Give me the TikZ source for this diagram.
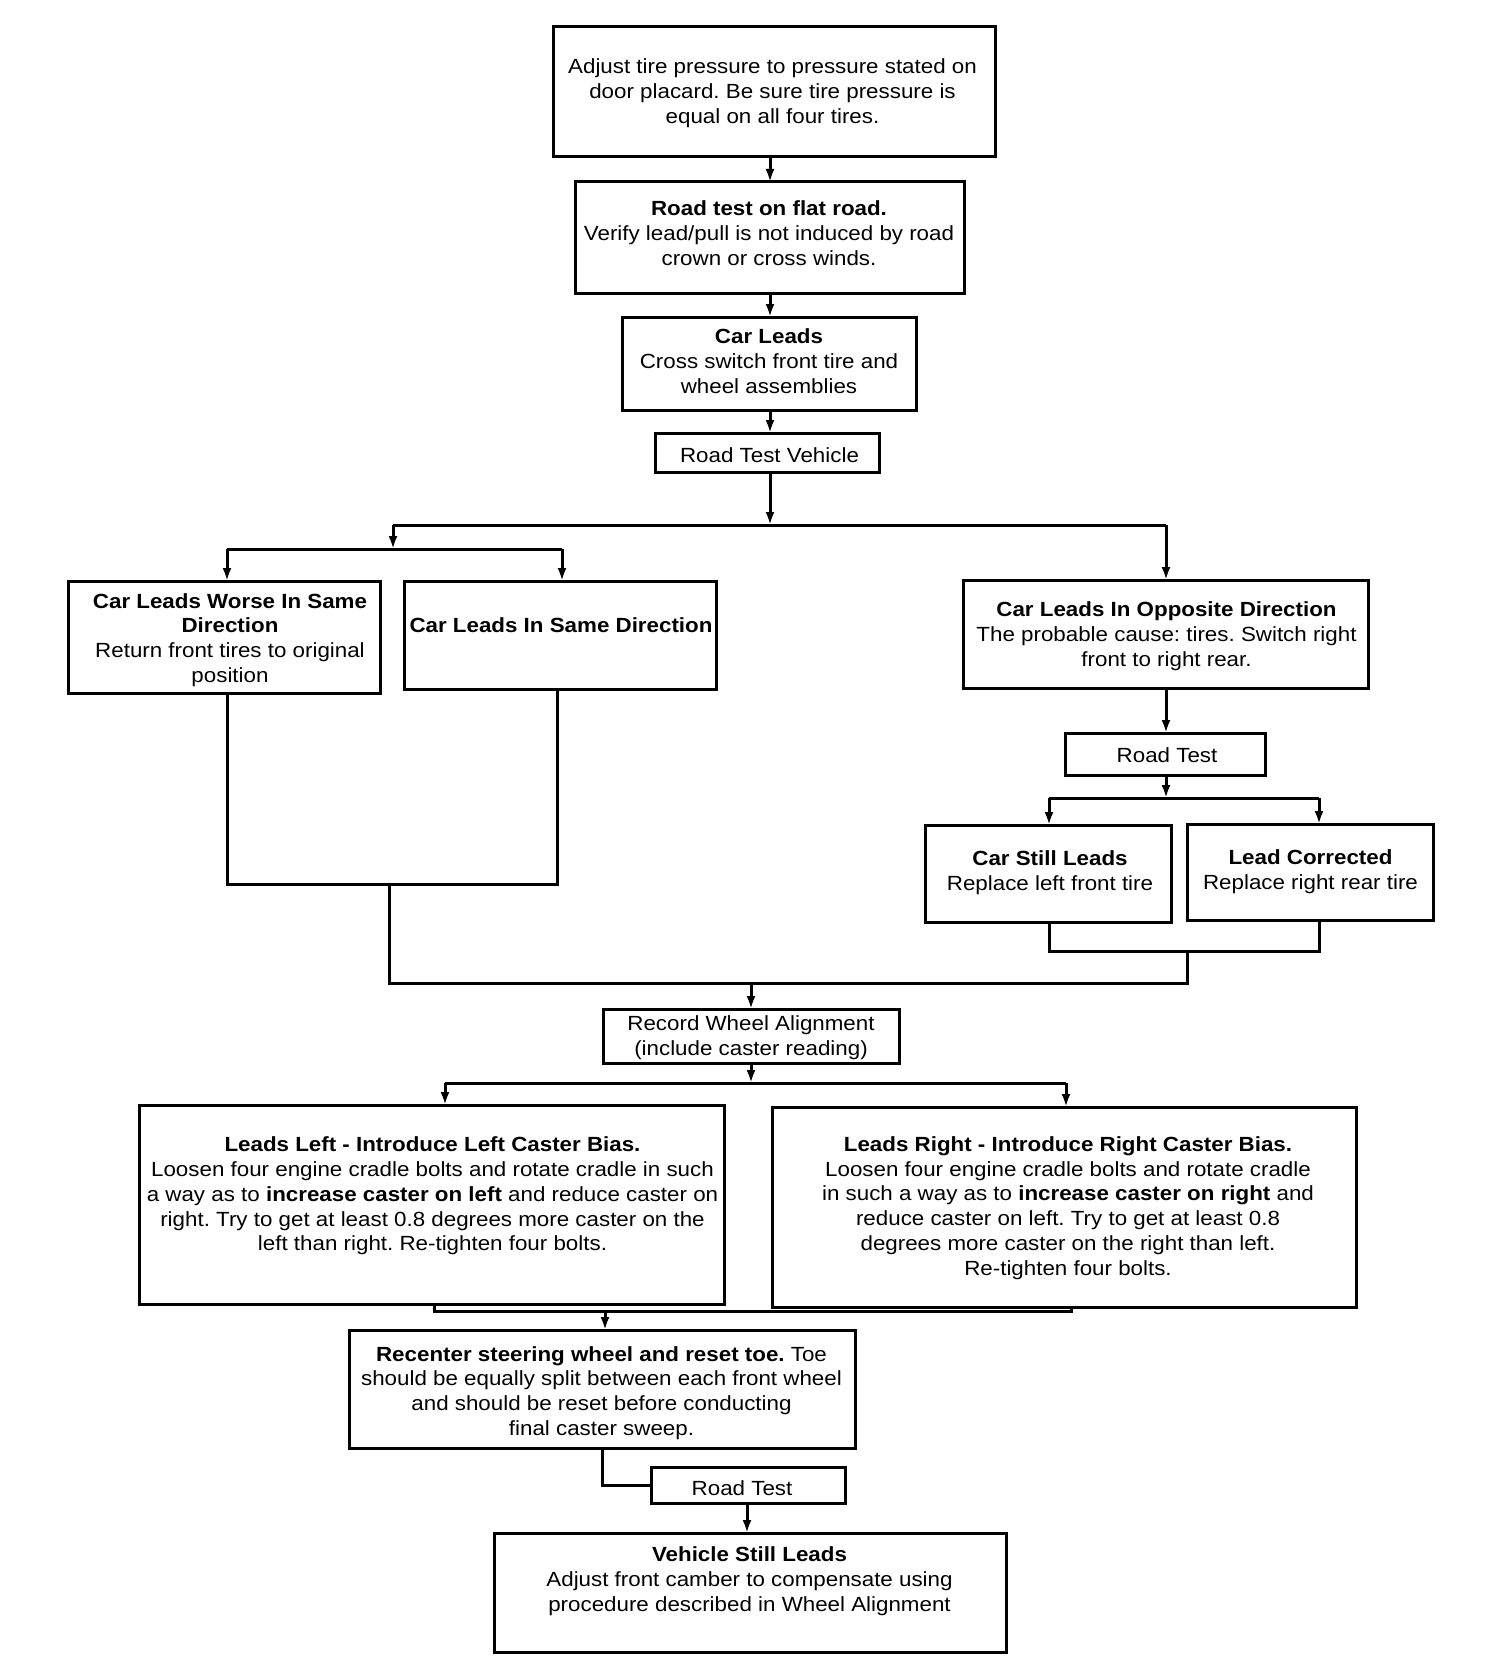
\documentclass[tikz,border=0pt]{standalone}
\usepackage{fontspec}
\setmainfont{Liberation Sans}[FakeStretch=1.09]
\usetikzlibrary{arrows.meta}
\frenchspacing
\begin{document}
\begin{tikzpicture}[x=1pt,y=-1pt,
  box/.style={draw, line width=3pt, inner sep=0pt, outer sep=0pt},
  txt/.style={align=center, inner sep=0pt, font=\fontsize{20.5pt}{24.8pt}\selectfont},
  conn/.style={line width=3pt, line join=miter},
  arr/.style={conn, -{Latex[length=13pt,width=9pt]}}]
\useasboundingbox (0,0) rectangle (1504,1664);
% boxes
\node[box, minimum width=442pt, minimum height=130pt] (top) at (774,92) {};
\node[box, minimum width=389pt, minimum height=111pt] (flat) at (769.5,237.5) {};
\node[box, minimum width=294pt, minimum height=93pt] (carl) at (769,363.5) {};
\node[box, minimum width=224pt, minimum height=39pt] (rtv) at (767,452.5) {};
\node[box, minimum width=312pt, minimum height=112pt] (worse) at (224.5,637) {};
\node[box, minimum width=312pt, minimum height=108pt] (same) at (560,635) {};
\node[box, minimum width=405pt, minimum height=108pt] (opp) at (1165.5,634) {};
\node[box, minimum width=200pt, minimum height=42pt] (rt3) at (1165,754) {};
\node[box, minimum width=246pt, minimum height=97pt] (still) at (1048,873.5) {};
\node[box, minimum width=246pt, minimum height=96pt] (corr) at (1310,872) {};
\node[box, minimum width=296pt, minimum height=54pt] (rec) at (751,1036) {};
\node[box, minimum width=585pt, minimum height=199pt] (left) at (431.5,1204.5) {};
\node[box, minimum width=584pt, minimum height=200pt] (right) at (1064,1207) {};
\node[box, minimum width=506pt, minimum height=118pt] (recenter) at (602,1389) {};
\node[box, minimum width=194pt, minimum height=36pt] (rt2) at (748,1485) {};
\node[box, minimum width=512pt, minimum height=119pt] (vehicle) at (750,1592.5) {};
% texts
\node[txt] (ttop) at (772.5,93) {Adjust tire pressure to pressure stated on\\door placard. Be sure tire pressure is\\equal on all four tires.};
\node[txt] (tflat) at (769,233) {\textbf{Road test on flat road.}\\Verify lead/pull is not induced by road\\crown or cross winds.};
\node[txt] (tcarl) at (769,361) {\textbf{Car Leads}\\Cross switch front tire and\\wheel assemblies};
\node[txt] (trtv) at (769.5,455) {Road Test Vehicle};
\node[txt] (tworse) at (230,640) {\textbf{Car Leads Worse In Same}\\\textbf{Direction}\\Return front tires to original\\position};
\node[txt] (tsame) at (561,625) {\textbf{Car Leads In Same Direction}};
\node[txt] (topp) at (1166.5,636) {\textbf{Car Leads In Opposite Direction}\\The probable cause: tires. Switch right\\front to right rear.};
\node[txt] (trt3) at (1167,755) {Road Test};
\node[txt] (tstill) at (1050,873) {\textbf{Car Still Leads}\\Replace left front tire};
\node[txt] (tcorr) at (1310.5,872) {\textbf{Lead Corrected}\\Replace right rear tire};
\node[txt] (trec) at (751,1038) {Record Wheel Alignment\\(include caster reading)};
\node[txt] (tleft) at (432.5,1196) {\textbf{Leads Left - Introduce Left Caster Bias.}\\Loosen four engine cradle bolts and rotate cradle in such\\a way as to \textbf{increase caster on left} and reduce caster on\\right. Try to get at least 0.8 degrees more caster on the\\left than right. Re-tighten four bolts.};
\node[txt] (tright) at (1068,1208) {\textbf{Leads Right - Introduce Right Caster Bias.}\\Loosen four engine cradle bolts and rotate cradle\\in such a way as to \textbf{increase caster on right} and\\reduce caster on left. Try to get at least 0.8\\degrees more caster on the right than left.\\Re-tighten four bolts.};
\node[txt] (trecenter) at (601.5,1393) {\textbf{Recenter steering wheel and reset toe.} Toe\\should be equally split between each front wheel\\and should be reset before conducting\\final caster sweep.};
\node[txt] (trt2) at (742,1488) {Road Test};
\node[txt] (tvehicle) at (749.5,1581) {\textbf{Vehicle Still Leads}\\Adjust front camber to compensate using\\procedure described in Wheel Alignment};
% junction coordinates
\coordinate (cx) at (770,0);
\coordinate (h1) at (770,525);
\coordinate (h1l) at (393,525);
\coordinate (h1r) at (1166,525);
\coordinate (h2l) at (227,549);
\coordinate (h2r) at (562,549);
\coordinate (b1l) at (227,884);
\coordinate (b1r) at (557,884);
\coordinate (b1m) at (389,884);
\coordinate (m1l) at (389,983);
\coordinate (m1r) at (1187,983);
\coordinate (m1c) at (751,983);
\coordinate (b2m) at (1187,951);
\coordinate (b2l) at (1049,951);
\coordinate (b2r) at (1319,951);
\coordinate (h3) at (1166,798);
\coordinate (h3l) at (1049,798);
\coordinate (h3r) at (1319,798);
\coordinate (h4) at (751,1083);
\coordinate (h4l) at (445,1083);
\coordinate (h4r) at (1066,1083);
\coordinate (h5l) at (434,1311);
\coordinate (h5r) at (1071,1311);
\coordinate (h5) at (605,1311);
\coordinate (k) at (602,1485);
\coordinate (v) at (747,0);
% connectors
\draw[arr] (top.south -| cx) -- (flat.north -| cx);
\draw[arr] (flat.south -| cx) -- (carl.north -| cx);
\draw[arr] (carl.south -| cx) -- (rtv.north -| cx);
\draw[arr] (rtv.south -| cx) -- (h1);
\draw[conn] (h1l) -- (h1r);
\draw[arr] (h1r) -- (opp.north -| h1r);
\draw[arr] (h1l) -- (h1l |- h2l);
\draw[conn] (h2l) -- (h2r);
\draw[arr] (h2l) -- (worse.north -| h2l);
\draw[arr] (h2r) -- (same.north -| h2r);
\draw[conn] (worse.south -| b1l) -- (b1l) -- (b1r) -- (same.south -| b1r);
\draw[conn] (b1m) -- (m1l) -- (m1r) -- (b2m);
\draw[conn] (still.south -| b2l) -- (b2l) -- (b2r) -- (corr.south -| b2r);
\draw[arr] (m1c) -- (rec.north -| m1c);
\draw[arr] (opp.south -| h3) -- (rt3.north -| h3);
\draw[arr] (rt3.south -| h3) -- (h3);
\draw[conn] (h3l) -- (h3r);
\draw[arr] (h3l) -- (still.north -| h3l);
\draw[arr] (h3r) -- (corr.north -| h3r);
\draw[arr] (rec.south -| h4) -- (h4);
\draw[conn] (h4l) -- (h4r);
\draw[arr] (h4l) -- (left.north -| h4l);
\draw[arr] (h4r) -- (right.north -| h4r);
\draw[conn] (left.south -| h5l) -- (h5l) -- (h5r) -- (right.south -| h5r);
\draw[arr] (h5) -- (recenter.north -| h5);
\draw[conn] (recenter.south -| k) -- (k) -- (rt2.west);
\draw[arr] (rt2.south -| v) -- (vehicle.north -| v);
\end{tikzpicture}
\end{document}
